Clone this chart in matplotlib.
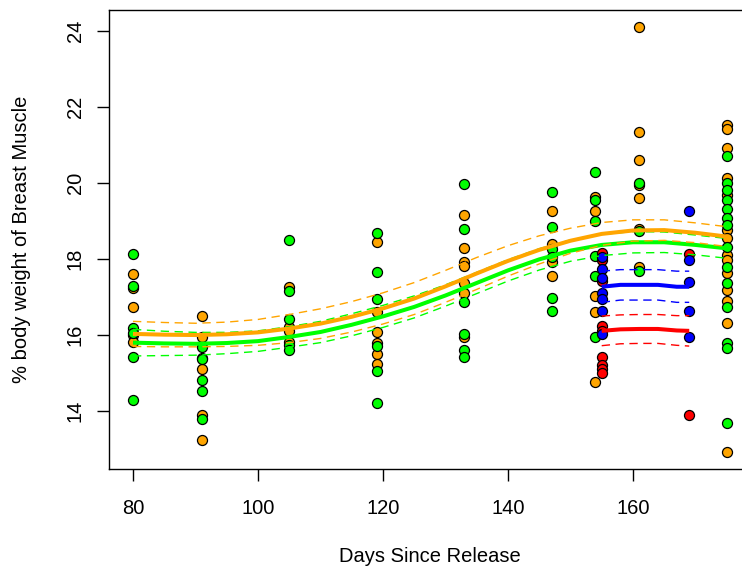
import numpy as np
import matplotlib
matplotlib.use("Agg")
from matplotlib import pyplot as plt

plt.rcParams['font.family'] = ['Liberation Sans', 'DejaVu Sans']

# measured birds, orange group
orange_days = [80, 80, 80, 80, 80,
               91, 91, 91, 91, 91, 91,
               105, 105, 105, 105,
               119, 119, 119, 119, 119, 119,
               133, 133, 133, 133, 133, 133, 133,
               147, 147, 147, 147,
               154, 154, 154, 154, 154,
               161, 161, 161, 161, 161, 161, 161,
               175, 175, 175, 175, 175, 175, 175, 175, 175, 175, 175, 175, 175, 175]
orange_pct = [17.61, 17.23, 16.74, 16.00, 15.82,
              16.50, 15.96, 15.40, 15.12, 13.89, 13.24,
              17.27, 16.22, 16.11, 15.82,
              18.46, 16.60, 16.07, 15.80, 15.51, 15.24,
              19.16, 18.28, 17.93, 17.82, 17.38, 17.10, 15.95,
              19.26, 18.39, 17.93, 17.54,
              19.62, 19.26, 17.03, 16.60, 14.77,
              24.11, 21.33, 20.60, 19.95, 19.60, 18.78, 17.80,
              21.53, 21.41, 20.93, 20.12, 19.68, 18.76, 18.54, 18.10, 17.97, 17.62, 17.18, 16.90, 16.32, 12.93]

# green group
green_days = [80, 80, 80, 80, 80, 80,
              91, 91, 91, 91, 91,
              105, 105, 105, 105, 105,
              119, 119, 119, 119, 119, 119,
              133, 133, 133, 133, 133, 133,
              147, 147, 147, 147, 147, 147,
              154, 154, 154, 154, 154, 154,
              161, 161, 161,
              175, 175, 175, 175, 175, 175, 175, 175, 175, 175, 175, 175, 175, 175]
green_pct = [18.13, 17.29, 16.18, 16.05, 15.43, 14.29,
             15.69, 15.36, 14.83, 14.53, 13.79,
             18.49, 17.17, 16.43, 15.74, 15.60,
             18.68, 17.65, 16.95, 15.71, 15.05, 14.20,
             19.97, 18.80, 16.87, 16.04, 15.60, 15.43,
             19.76, 18.83, 18.26, 18.06, 16.98, 16.62,
             20.28, 19.55, 18.99, 18.07, 17.55, 15.96,
             20.01, 18.74, 17.69,
             20.71, 20.01, 19.82, 19.55, 19.31, 19.07, 18.89, 18.32, 17.80, 17.38, 16.75, 15.80, 15.66, 13.68]

# red and blue groups, only sampled late
red_days = [155, 155, 155, 155, 155, 155, 155, 155, 155, 169, 169]
red_pct = [18.15, 17.97, 17.43, 16.24, 16.11, 15.43, 15.21, 15.10, 14.99, 18.13, 13.89]
blue_days = [155, 155, 155, 155, 155, 155, 155, 169, 169, 169, 169, 169]
blue_pct = [18.06, 17.73, 17.49, 17.11, 16.94, 16.63, 16.04, 19.26, 17.97, 17.40, 16.63, 15.96]

# smoothed fits with half width of the interval
fit_days = [80, 85, 90, 95, 100, 105, 110, 115, 120, 125, 130, 135, 140, 145, 150, 155, 160, 165, 170, 175]
orange_fit = [16.03, 16.01, 16.00, 16.02, 16.07, 16.17, 16.30, 16.48, 16.70, 16.96,
              17.28, 17.62, 17.95, 18.24, 18.48, 18.66, 18.75, 18.76, 18.69, 18.59]
orange_se = [0.33, 0.32, 0.31, 0.32, 0.34, 0.37, 0.39, 0.40, 0.41, 0.42,
             0.42, 0.42, 0.40, 0.37, 0.33, 0.30, 0.28, 0.27, 0.26, 0.26]
green_fit = [15.80, 15.78, 15.77, 15.79, 15.84, 15.95, 16.08, 16.27, 16.49, 16.74,
             17.04, 17.37, 17.70, 17.99, 18.22, 18.37, 18.44, 18.44, 18.37, 18.28]
green_se = [0.35, 0.32, 0.30, 0.28, 0.27, 0.27, 0.28, 0.29, 0.29, 0.29,
            0.28, 0.28, 0.28, 0.28, 0.28, 0.28, 0.28, 0.27, 0.26, 0.26]

late_days = [155, 158, 161, 164, 167, 169]
blue_fit = [17.27, 17.32, 17.32, 17.32, 17.27, 17.27]
blue_se = [0.41, 0.40, 0.40, 0.40, 0.41, 0.41]
red_fit = [16.11, 16.15, 16.16, 16.16, 16.12, 16.11]
red_se = [0.39, 0.38, 0.38, 0.38, 0.39, 0.40]

fig = plt.figure(figsize=(7.42, 5.73), dpi=100)
ax = fig.add_axes([0.1472, 0.1819, 0.8642, 0.8012])

# points
pt = dict(s=52, edgecolors='black', linewidths=0.9, zorder=2)
ax.scatter(orange_days, orange_pct, c='#FFA500', **pt)
ax.scatter(green_days, green_pct, c='#00FF00', **pt)
ax.scatter(red_days, red_pct, c='#FF0000', **pt)
ax.scatter(blue_days, blue_pct, c='#0000FF', **pt)

# fitted lines and dashed intervals
def draw_fit(x, fit, se, col):
    fit = np.array(fit)
    se = np.array(se)
    ax.plot(x, fit, color=col, lw=2.9, zorder=3, solid_capstyle='butt')
    ax.plot(x, fit + se, color=col, lw=1.0, ls=(0, (6, 4)), zorder=3)
    ax.plot(x, fit - se, color=col, lw=1.0, ls=(0, (6, 4)), zorder=3)

draw_fit(fit_days, green_fit, green_se, '#00FF00')
draw_fit(fit_days, orange_fit, orange_se, '#FFA500')
draw_fit(late_days, red_fit, red_se, '#FF0000')
draw_fit(late_days, blue_fit, blue_se, '#0000FF')

# R style axis ranges (4% padding)
all_x = orange_days + green_days + red_days + blue_days
all_y = orange_pct + green_pct + red_pct + blue_pct
xr = max(all_x) - min(all_x)
yr = max(all_y) - min(all_y)
ax.set_xlim(min(all_x) - 0.04 * xr, max(all_x) + 0.04 * xr)
ax.set_ylim(min(all_y) - 0.04 * yr, max(all_y) + 0.04 * yr)

ax.set_xticks([80, 100, 120, 140, 160])
ax.set_yticks([14, 16, 18, 20, 22, 24])
ax.tick_params(axis='x', length=8.6, width=1, labelsize=14.5, pad=13)
ax.tick_params(axis='y', length=8.6, width=1, labelsize=14.5, pad=9, labelrotation=90)
for lab in ax.get_yticklabels():
    lab.set_verticalalignment('center')
for sp in ax.spines.values():
    sp.set_linewidth(1.0)

ax.set_xlabel("Days Since Release", fontsize=14.5, va='center')
ax.set_ylabel("% body weight of Breast Muscle", fontsize=14.5, va='center')
ax.xaxis.set_label_coords(0.5, -0.1921)
ax.yaxis.set_label_coords(-0.1361, 0.5)

fig.savefig("out.png", dpi=100)
